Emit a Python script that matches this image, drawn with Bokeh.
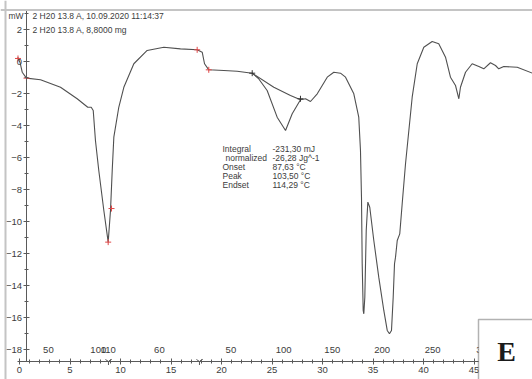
from bokeh.plotting import figure
from bokeh.models import Range1d, LinearAxis, FixedTicker, Span, BoxAnnotation, Label, ColumnDataSource
from bokeh.core.properties import value
from bokeh.embed import file_html
from bokeh.resources import INLINE

# ---------------- data ----------------
time_min = [-0.17, 0.05, 0.27, 0.69, 2.08, 4.06, 5.71, 6.76, 7.10, 7.30, 7.52, 7.85, 8.35, 8.78,
            9.01, 9.18, 9.34, 9.83, 10.33, 11.32, 12.64, 14.29, 15.94, 17.59, 18.09, 18.32, 18.74,
            20.23, 21.55, 23.04, 23.66, 24.52, 25.51, 26.34, 27.00, 27.82, 28.32, 28.81, 29.48,
            30.47, 31.12, 31.78, 32.28, 33.10, 33.59, 33.76, 33.86, 33.93, 34.03, 34.09, 34.19,
            34.33, 34.49, 34.68, 35.08, 35.57, 36.07, 36.41, 36.63, 36.83, 37.00, 37.13, 37.23,
            37.40, 37.65, 37.89, 38.22, 38.45, 38.88, 39.38, 40.03, 40.86, 41.51, 42.18, 42.67,
            43.17, 43.50, 43.66, 44.16, 44.82, 45.48, 45.97, 46.63, 47.13, 47.45, 47.95, 49.28, 50.79]
heat_flow_mw = [0.27, -0.06, -0.67, -1.04, -1.14, -1.61, -2.33, -2.86, -2.86, -3.06, -4.94, -6.81,
                -9.31, -11.29, -9.31, -6.81, -4.73, -2.86, -1.61, -0.14, 0.69, 0.89, 0.79, 0.73,
                0.58, -0.14, -0.52, -0.56, -0.61, -0.73, -1.06, -1.81, -3.48, -4.31, -3.27, -2.39,
                -2.33, -2.50, -2.02, -0.98, -0.67, -0.73, -0.98, -2.02, -3.48, -5.56, -8.48, -12.64,
                -15.56, -15.77, -14.73, -10.56, -8.79, -9.11, -11.19, -13.48, -15.56, -16.81, -17.02,
                -16.81, -14.73, -12.64, -12.23, -11.19, -10.77, -8.89, -6.39, -4.94, -2.23, -0.14,
                0.89, 1.25, 1.11, 0.27, -0.98, -1.50, -2.33, -1.61, -0.67, -0.14, -0.31, -0.46,
                -0.08, -0.25, -0.46, -0.31, -0.36, -0.73]

baseline_time = [23.04, 25.18, 26.83, 27.82]
baseline_mw = [-0.73, -1.61, -2.13, -2.39]

red_mark_time = [-0.15, 0.69, 8.78, 9.11, 17.59, 18.74]
red_mark_mw = [0.19, -1.04, -11.29, -9.19, 0.73, -0.52]
eval_mark_time = [23.04, 27.82]
eval_mark_mw = [-0.73, -2.33]
segment_mark_time = [8.81, 17.82]

x_major_ticks = [0, 5, 10, 15, 20, 25, 30, 35, 40, 45]
x_minor_ticks = list(range(0, 51))
y_major_ticks = [-18, -16, -14, -12, -10, -8, -6, -4, -2, 0, 2]
y_minor_ticks = list(range(-18, 4))

temp_labels = ["50", "100", "110", "60", "50", "100", "150", "200", "250", "300"]
temp_label_time = [2.86, 7.80, 8.79, 13.85, 20.93, 26.16, 30.97, 35.90, 40.90, 46.0]

header_lines = ["2 H20 13.8 A, 10.09.2020 11:14:37", "2 H20 13.8 A, 8,8000 mg"]
result_names = ["Integral", "normalized", "Onset", "Peak", "Endset"]
result_values = ["-231,30 mJ", "-26,28 Jg^-1", "87,63 °C", "103,50 °C", "114,29 °C"]
unit_label = "mW"
panel_letter = "E"

# ---------------- layout ----------------
W, H = 532, 379
PX0, PXS = 19.0, 10.1      # canvas x of t=0, pixels per minute
PY0, PYS = 61.0, 16.0      # canvas y of 0 mW, pixels per mW

def tx(px):
    return (px - PX0) / PXS

def my(py):
    return (PY0 - py) / PYS

FONT = "Liberation Sans"
INK = "#3c3c3c"
CURVE = "#505050"

p = figure(width=W, height=H, x_range=Range1d(tx(0), tx(W)),
           y_range=Range1d(my(H), my(0)), output_backend="svg", toolbar_location=None,
           x_axis_location=None, y_axis_location=None, min_border=0,
           outline_line_color=None, background_fill_color="white", border_fill_color="white")
p.xgrid.visible = False
p.ygrid.visible = False

axis_y = my(361)

xaxis = LinearAxis(fixed_location=axis_y, bounds=(tx(17), tx(W)),
                   ticker=FixedTicker(ticks=x_major_ticks, minor_ticks=x_minor_ticks))
yaxis = LinearAxis(fixed_location=tx(25.5), bounds=(axis_y, my(10)),
                   ticker=FixedTicker(ticks=y_major_ticks, minor_ticks=y_minor_ticks))
for ax in (xaxis, yaxis):
    ax.axis_line_color = "#5a5a5a"
    ax.major_tick_line_color = "#5a5a5a"
    ax.minor_tick_line_color = "#5a5a5a"
    ax.major_tick_in = 3
    ax.major_tick_out = 3
    ax.minor_tick_in = 2
    ax.minor_tick_out = 2
    ax.major_label_text_font = FONT
    ax.major_label_text_font_size = "9.5px"
    ax.major_label_text_color = INK
xaxis.major_label_standoff = 2
yaxis.major_label_standoff = 1
p.add_layout(xaxis, "below")
p.add_layout(yaxis, "left")

# frame lines of the instrument window
p.add_layout(Span(location=my(9.5), dimension="width", line_color="#c4c4c4", line_width=2))
p.add_layout(Span(location=tx(5), dimension="height", line_color="#c4c4c4", line_width=2))

# curve, baseline, markers
p.line(time_min, heat_flow_mw, line_color=CURVE, line_width=1.1)
p.line(baseline_time, baseline_mw, line_color=CURVE, line_width=1.1)
p.scatter(red_mark_time, red_mark_mw, marker="cross", size=6, line_color="#e04848", line_width=1)
p.scatter(eval_mark_time, eval_mark_mw, marker="cross", size=6, line_color="#333333", line_width=1)
p.scatter(segment_mark_time, [axis_y] * len(segment_mark_time), marker="y", size=7,
          line_color="#5a5a5a", line_width=1)

# temperature labels over the time axis
temp_src = ColumnDataSource(dict(x=temp_label_time, y=[my(349)] * len(temp_labels), t=temp_labels))
p.text(x="x", y="y", text="t", source=temp_src, text_font=value(FONT), text_font_size="9.5px",
       text_color=INK, text_align="center", text_baseline="middle")

# header
p.text(x=[tx(8)], y=[my(15)], text=[unit_label], text_font=value(FONT), text_font_size="8.5px",
       text_color=INK, text_align="left", text_baseline="middle")
head_src = ColumnDataSource(dict(x=[tx(32)] * 2, y=[my(15), my(29)], t=header_lines))
p.text(x="x", y="y", text="t", source=head_src, text_font=value(FONT), text_font_size="8.5px",
       text_color=INK, text_align="left", text_baseline="middle")

# evaluation results
rows_y = [my(148 + 9 * i) for i in range(len(result_names))]
name_x = [tx(225) if n == "normalized" else tx(222) for n in result_names]
res_src = ColumnDataSource(dict(x=name_x, y=rows_y, t=result_names))
p.text(x="x", y="y", text="t", source=res_src, text_font=value(FONT), text_font_size="8.5px",
       text_color=INK, text_align="left", text_baseline="middle")
val_src = ColumnDataSource(dict(x=[tx(272)] * len(result_values), y=rows_y, t=result_values))
p.text(x="x", y="y", text="t", source=val_src, text_font=value(FONT), text_font_size="8.5px",
       text_color=INK, text_align="left", text_baseline="middle")

# panel letter box
p.add_layout(BoxAnnotation(left=tx(478), right=tx(533), top=my(319), bottom=my(380),
                           fill_color="white", fill_alpha=1.0, line_color="black", line_width=1.5,
                           level="annotation"))
p.add_layout(Label(x=tx(506), y=my(351), text=panel_letter, text_align="center",
                   text_baseline="middle", text_font="Liberation Serif", text_font_style="bold",
                   text_font_size="28px", text_color="#1a1a1a"))

open("out.html", "w").write(file_html(p, INLINE))
